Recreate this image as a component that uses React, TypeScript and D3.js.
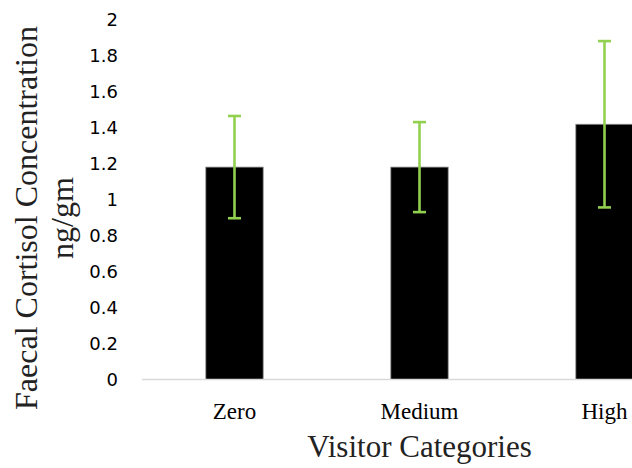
import React from "react";
import * as d3 from "d3";

const categories = ["Zero", "Medium", "High"];
const means = [1.18, 1.18, 1.418];
const errors = [0.284, 0.25, 0.462];
const yTicks = [0, 0.2, 0.4, 0.6, 0.8, 1, 1.2, 1.4, 1.6, 1.8, 2];
const yTitleLines = ["Faecal Cortisol Concentration", "ng/gm"];
const xTitle = "Visitor Categories";

const W = 632;
const H = 468;
const serif = "'Liberation Serif', 'Times New Roman', serif";
const sans = "'DejaVu Sans', sans-serif";

export default function App() {
  const x = d3.scaleBand<string>().domain(categories).range([142, 697]).padding(0);
  const y = d3.scaleLinear().domain([0, 2]).range([379.5, 19.5]);
  const barW = x.bandwidth() * 0.31;
  const capW = 13;
  const green = "#92D050";

  return (
    <svg
      width={W}
      height={H}
      style={{ position: "absolute", left: 0, top: 0, background: "#fff" }}
    >
      {/* y tick labels */}
      {yTicks.map((t) => (
        <text
          key={t}
          x={118}
          y={y(t)}
          dy="0.36em"
          textAnchor="end"
          fontFamily={sans}
          fontSize={18}
          fill="#000"
        >
          {d3.format("")(t)}
        </text>
      ))}

      {/* bars */}
      {categories.map((c, i) => {
        const cx = (x(c) ?? 0) + x.bandwidth() / 2;
        return (
          <rect
            key={c}
            x={cx - barW / 2}
            y={y(means[i])}
            width={barW}
            height={y(0) - y(means[i])}
            fill="#000"
            stroke="#8c8c8c"
            strokeWidth={0.8}
          />
        );
      })}

      {/* baseline axis */}
      <line x1={142} x2={W} y1={y(0)} y2={y(0)} stroke="#d9d9d9" strokeWidth={1.5} />

      {/* error bars */}
      {categories.map((c, i) => {
        const cx = (x(c) ?? 0) + x.bandwidth() / 2;
        const hi = y(means[i] + errors[i]);
        const lo = y(means[i] - errors[i]);
        return (
          <g key={c} stroke={green} strokeWidth={2.6}>
            <line x1={cx} x2={cx} y1={hi} y2={lo} />
            <line x1={cx - capW / 2} x2={cx + capW / 2} y1={hi} y2={hi} />
            <line x1={cx - capW / 2} x2={cx + capW / 2} y1={lo} y2={lo} />
          </g>
        );
      })}

      {/* category labels */}
      {categories.map((c) => (
        <text
          key={c}
          x={(x(c) ?? 0) + x.bandwidth() / 2}
          y={419}
          textAnchor="middle"
          fontFamily={serif}
          fontSize={23}
          fill="#000"
        >
          {c}
        </text>
      ))}

      {/* axis titles */}
      <text
        x={419.5}
        y={456.5}
        textAnchor="middle"
        fontFamily={serif}
        fontSize={31}
        fill="#222"
      >
        {xTitle}
      </text>
      {yTitleLines.map((line, i) => (
        <text
          key={line}
          transform={`translate(${37 + i * 36}, ${218}) rotate(-90)`}
          textAnchor="middle"
          fontFamily={serif}
          fontSize={32}
          fill="#222"
        >
          {line}
        </text>
      ))}
    </svg>
  );
}
